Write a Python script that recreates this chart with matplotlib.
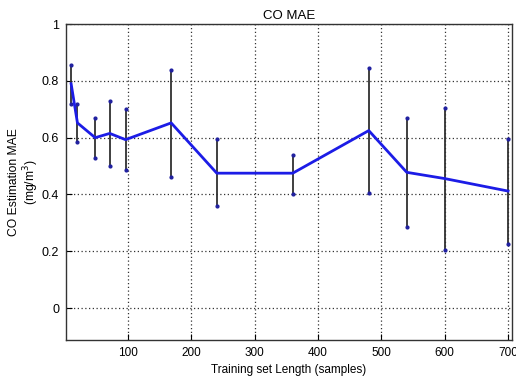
import matplotlib
matplotlib.use('Agg')
import matplotlib.pyplot as plt

plt.rcParams['font.family'] = ['Liberation Sans', 'DejaVu Sans']

# training set length (samples)
lengths = [10, 20, 48, 71, 96, 168, 240, 360, 480, 540, 600, 700]
mae = [0.79, 0.652, 0.600, 0.615, 0.593, 0.652, 0.475, 0.475, 0.625, 0.478, 0.456, 0.412]
err_low = [0.72, 0.585, 0.530, 0.500, 0.485, 0.460, 0.360, 0.402, 0.404, 0.287, 0.205, 0.226]
err_high = [0.855, 0.720, 0.670, 0.730, 0.700, 0.840, 0.595, 0.540, 0.847, 0.670, 0.703, 0.596]

fig = plt.figure(figsize=(5.16, 3.76), dpi=100)
ax = fig.add_axes([0.128, 0.096, 0.864, 0.840])

ax.vlines(lengths, err_low, err_high, colors='#303030', linewidth=1.3, zorder=2)
ax.plot(lengths, err_low, linestyle='none', marker='.', color='#2020a0', markersize=4, zorder=3)
ax.plot(lengths, err_high, linestyle='none', marker='.', color='#2020a0', markersize=4, zorder=3)
ax.plot(lengths, mae, color='#1c1ce6', linewidth=2.0, zorder=4)

ax.set_xlim(2, 706)
ax.set_ylim(-0.112, 1.0)
ax.set_xticks([100, 200, 300, 400, 500, 600, 700])
ax.set_yticks([0, 0.2, 0.4, 0.6, 0.8, 1])
ax.set_yticklabels(['0', '0.2', '0.4', '0.6', '0.8', '1'])
ax.grid(True, linestyle=(0, (1, 2)), color='#333333', linewidth=0.9)
ax.tick_params(direction='in', length=4)
ax.tick_params(axis='x', labelsize=8.5, pad=5)
ax.tick_params(axis='y', labelsize=9, pad=5)
for s in ax.spines.values():
    s.set_linewidth(1.0)
    s.set_color('#333333')

ax.set_title('CO MAE', fontsize=9.5, pad=4)
ax.set_xlabel('Training set Length (samples)', fontsize=8.5, labelpad=4)
ax.set_ylabel('CO Estimation MAE\n(mg/m$^3$)', fontsize=8.7, linespacing=1.05)
ax.yaxis.set_label_coords(-0.057, 0.5)

fig.savefig('out.png', dpi=100)
